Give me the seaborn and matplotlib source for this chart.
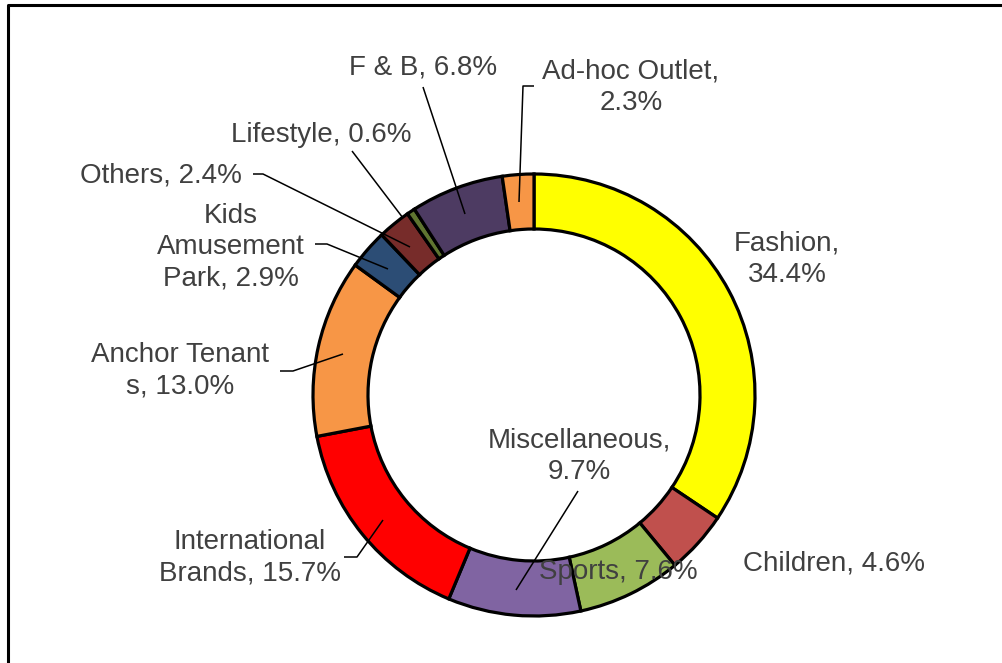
import matplotlib
matplotlib.use("Agg")
import matplotlib.pyplot as plt
import seaborn as sns

# tenant mix shares, clockwise from 12 o'clock
categories = ["Fashion", "Children", "Sports", "Miscellaneous", "International Brands",
              "Anchor Tenants", "Kids Amusement Park", "Others", "Lifestyle", "F & B",
              "Ad-hoc Outlet"]
shares = [34.4, 4.6, 7.6, 9.7, 15.7, 13.0, 2.9, 2.4, 0.6, 6.8, 2.3]
colors = ["#FFFF00", "#C0504D", "#9BBB59", "#8064A2", "#FF0000", "#F79646",
          "#2C4D75", "#772C2A", "#5F7530", "#4D3B62", "#F79646"]

# label text as shown (Excel-style wrapping)
label_texts = ["Fashion,\n34.4%", "Children, 4.6%", "Sports, 7.6%", "Miscellaneous,\n9.7%",
               "International\nBrands, 15.7%", "Anchor Tenant\ns, 13.0%",
               "Kids\nAmusement\nPark, 2.9%", "Others, 2.4%", "Lifestyle, 0.6%",
               "F & B, 6.8%", "Ad-hoc Outlet,\n2.3%"]

W, H = 1002, 663
# label centres in pixel coords (x right, y down)
label_pos = [(787, 259), (834, 563), (618, 572), (579, 456), (250, 558), (180, 371),
             (231, 247), (161, 175), (321, 135), (423, 68), (631, 87)]
# leader lines in pixel coords
leaders = {
    "Miscellaneous": [(578, 491), (516, 590)],
    "International Brands": [(344, 557), (357, 557), (383, 520)],
    "Anchor Tenants": [(280, 371), (293, 371), (343, 354)],
    "Kids Amusement Park": [(315, 244), (327, 244), (388, 269)],
    "Others": [(253, 174), (263, 174), (410, 247)],
    "Lifestyle": [(352, 151), (403, 218)],
    "F & B": [(423, 87), (465, 214)],
    "Ad-hoc Outlet": [(534, 86), (523, 86), (519, 202)],
}

sns.set_theme(style="white")
plt.rcParams["font.family"] = ["Liberation Sans", "DejaVu Sans"]

fig = plt.figure(figsize=(W / 100, H / 100), dpi=100)
ax = fig.add_axes([0, 0, 1, 1])

cx, cy, r = 534, 395, 221
ax.pie(shares, colors=colors, startangle=90, counterclock=False,
       radius=r, center=(cx, H - cy),
       wedgeprops=dict(width=55, edgecolor="black", linewidth=2.3, joinstyle="miter"))

for txt, (x, y) in zip(label_texts, label_pos):
    ax.text(x, H - y, txt, ha="center", va="center", multialignment="center",
            fontsize=20, color="#404040", linespacing=1.27)

for name, pts in leaders.items():
    xs = [p[0] for p in pts]
    ys = [H - p[1] for p in pts]
    ax.plot(xs, ys, color="black", linewidth=1.1, solid_capstyle="butt")

# chart frame (top and left visible)
ax.plot([8, 8, W], [0, H - 5, H - 5], color="black", linewidth=2.2)

ax.set_xlim(0, W)
ax.set_ylim(0, H)
ax.set_aspect("equal")
ax.axis("off")

fig.savefig("out.png", dpi=100, facecolor="white")
